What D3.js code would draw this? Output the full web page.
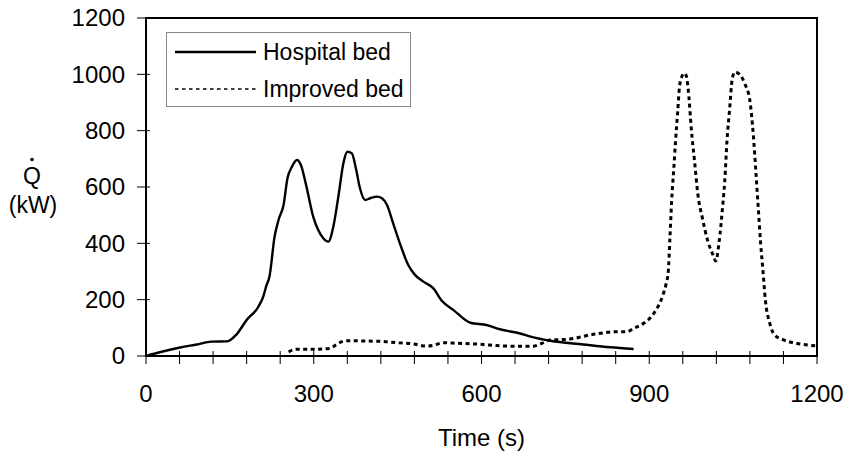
<!DOCTYPE html>
<html>
<head>
<meta charset="utf-8">
<script src="https://cdn.jsdelivr.net/npm/d3@7"></script>
<style>
  html, body { margin: 0; padding: 0; background: #fff; }
  svg { display: block; }
  text { font-family: "Liberation Sans", Arial, Helvetica, sans-serif; fill: #000; }
</style>
</head>
<body>
<svg id="chart" width="849" height="456"></svg>
<script>
// Heat release rate of two beds over time
const hospitalTime = [0, 28, 61, 91, 117, 145, 162, 180, 201, 210, 215, 221, 230, 237, 246, 253, 261, 270, 277, 287, 299, 308, 317, 326, 335, 344, 353, 360, 368, 376, 382, 392, 401, 413, 422, 431, 442, 454, 469, 481, 496, 514, 529, 550, 580, 609, 633, 669, 693, 723, 782, 830, 872];
const hospitalQ    = [0, 15, 30, 41, 51, 52, 77, 128, 175, 213, 248, 284, 424, 483, 536, 631, 672, 696, 678, 601, 495, 447, 418, 406, 459, 566, 684, 725, 720, 660, 601, 554, 560, 566, 560, 536, 471, 400, 323, 288, 264, 240, 196, 163, 118, 110, 95, 80, 66, 54, 41, 31, 25];

const improvedTime = [255, 270, 299, 329, 340, 346, 359, 419, 449, 478, 502, 514, 532, 556, 586, 615, 651, 693, 708, 723, 753, 800, 842, 860, 872, 890, 908, 925, 930, 934, 937, 940, 944, 947, 951, 954, 958, 962, 966, 971, 975, 981, 987, 995, 1005, 1014, 1019, 1025, 1031, 1035, 1039, 1044, 1048, 1053, 1062, 1071, 1080, 1086, 1091, 1095, 1099, 1103, 1108, 1115, 1124, 1139, 1163, 1198];
const improvedQ    = [15, 24, 24, 27, 40, 47, 54, 52, 47, 43, 35, 38, 47, 45, 43, 39, 35, 35, 45, 57, 59, 77, 86, 86, 98, 116, 151, 220, 255, 300, 420, 549, 668, 763, 871, 954, 990, 1004, 996, 918, 811, 692, 573, 490, 406, 359, 337, 406, 525, 621, 763, 883, 978, 1008, 999, 966, 906, 787, 644, 525, 406, 311, 192, 120, 75, 58, 45, 36];

const xTickValues = [0, 300, 600, 900, 1200];
const yTickValues = [0, 200, 400, 600, 800, 1000, 1200];
const seriesNames = ["Hospital bed", "Improved bed"];

const svg = d3.select("#chart");
const plotLeft = 146, plotRight = 817, plotTop = 18, plotBottom = 356;

const x = d3.scaleLinear().domain([0, 1200]).range([plotLeft, plotRight]);
const y = d3.scaleLinear().domain([0, 1200]).range([plotBottom, plotTop]);

// minor ticks every 60 s across the time axis
const xMinor = d3.range(0, 1201, 60);

// frame
svg.append("rect")
  .attr("x", plotLeft).attr("y", plotTop)
  .attr("width", plotRight - plotLeft).attr("height", plotBottom - plotTop)
  .attr("fill", "none").attr("stroke", "#000").attr("stroke-width", 2);

// x axis ticks and labels
const xAxis = svg.append("g");
xAxis.selectAll("line").data(xMinor).join("line")
  .attr("x1", d => x(d)).attr("x2", d => x(d))
  .attr("y1", plotBottom - 5).attr("y2", plotBottom + 8)
  .attr("stroke", "#000").attr("stroke-width", 1);
xAxis.selectAll("text").data(xTickValues).join("text")
  .attr("x", d => x(d)).attr("y", 402)
  .attr("text-anchor", "middle").attr("font-size", 24)
  .text(d => d);

// y axis ticks and labels
const yAxis = svg.append("g");
yAxis.selectAll("line").data(yTickValues).join("line")
  .attr("x1", plotLeft - 9).attr("x2", plotLeft + 4)
  .attr("y1", d => y(d)).attr("y2", d => y(d))
  .attr("stroke", "#000").attr("stroke-width", 1);
yAxis.selectAll("text").data(yTickValues).join("text")
  .attr("x", 125).attr("y", d => y(d))
  .attr("dy", "0.35em")
  .attr("text-anchor", "end").attr("font-size", 24)
  .text(d => d);

// axis titles
svg.append("text")
  .attr("x", (plotLeft + plotRight) / 2).attr("y", 446)
  .attr("text-anchor", "middle").attr("font-size", 24)
  .text("Time (s)");
svg.append("text")
  .attr("x", 32).attr("y", 184)
  .attr("text-anchor", "middle").attr("font-size", 23)
  .text("Q");
svg.append("circle")
  .attr("cx", 32).attr("cy", 159.5).attr("r", 1.8).attr("fill", "#000");
svg.append("text")
  .attr("x", 33).attr("y", 213)
  .attr("text-anchor", "middle").attr("font-size", 23)
  .text("(kW)");

// series lines
const line = d3.line()
  .x(d => x(d[0]))
  .y(d => y(d[1]))
  .curve(d3.curveMonotoneX);

const hospital = hospitalTime.map((t, i) => [t, hospitalQ[i]]);
const improved = improvedTime.map((t, i) => [t, improvedQ[i]]);

svg.append("path")
  .datum(hospital)
  .attr("d", line)
  .attr("fill", "none").attr("stroke", "#000")
  .attr("stroke-width", 2.4).attr("stroke-linejoin", "round");

svg.append("path")
  .datum(improved)
  .attr("d", line)
  .attr("fill", "none").attr("stroke", "#000")
  .attr("stroke-width", 3).attr("stroke-dasharray", "4,3.5");

// legend
const legend = svg.append("g");
legend.append("rect")
  .attr("x", 166.5).attr("y", 32.5).attr("width", 244).attr("height", 74)
  .attr("fill", "#fff").attr("stroke", "#888").attr("stroke-width", 1);
legend.append("line")
  .attr("x1", 175).attr("x2", 256).attr("y1", 52).attr("y2", 52)
  .attr("stroke", "#000").attr("stroke-width", 2.4);
legend.append("line")
  .attr("x1", 175).attr("x2", 256).attr("y1", 89).attr("y2", 89)
  .attr("stroke", "#000").attr("stroke-width", 1.5).attr("stroke-dasharray", "3.5,3.5");
legend.selectAll("text.lg").data(seriesNames).join("text")
  .attr("class", "lg")
  .attr("x", 263).attr("y", (d, i) => i === 0 ? 60 : 97)
  .attr("font-size", 23)
  .text(d => d);
</script>
</body>
</html>
